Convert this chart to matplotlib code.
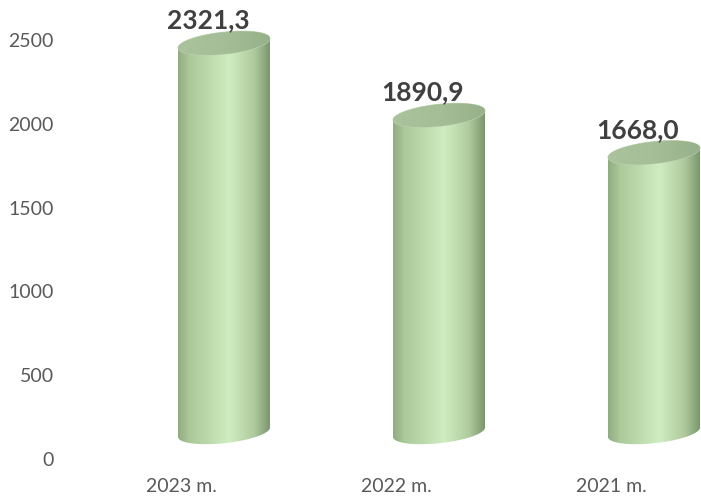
import numpy as np
import matplotlib
matplotlib.use('Agg')
from matplotlib import pyplot as plt
from matplotlib.patches import Polygon

categories = ['2023 m.', '2022 m.', '2021 m.']
values = [2321.3, 1890.9, 1668.0]
value_labels = ['2321,3', '1890,9', '1668,0']
y_ticks = [0, 500, 1000, 1500, 2000, 2500]

plt.rcParams['font.family'] = ['Lato', 'DejaVu Sans']

fig = plt.figure(figsize=(7.01, 4.98), dpi=100)
ax = fig.add_axes([65 / 701, 28 / 498, 1 - 65 / 701, 1 - 28 / 498])
ax.set_xlim(-0.5395, 2.4186)
ax.set_ylim(-65.6, 2738.7)
for s in ax.spines.values():
    s.set_visible(False)

ax.set_yticks(y_ticks)
ax.set_yticklabels([str(t) for t in y_ticks])
ax.set_xticks(range(len(categories)))
ax.set_xticklabels(categories)
ax.tick_params(length=0, labelsize=14, labelcolor='#595959')
ax.tick_params(axis='y', pad=8)
ax.tick_params(axis='x', pad=6)

# 3d look: cylinders sit on a floor a bit above zero and lean to the right
base = 160
offset = 0.2
hw = 0.214
hh = 66
shear = 28

stops = np.array([0.0, 0.12, 0.55, 0.82, 1.0])
cols = np.array([
    [145, 172, 130],
    [170, 200, 152],
    [208, 237, 193],
    [175, 203, 158],
    [120, 147, 106],
]) / 255.0
xs = np.linspace(0, 1, 200)
grad = np.stack([np.interp(xs, stops, cols[:, k]) for k in range(3)], axis=-1)[None, :, :]

cap_stops = np.array([0.0, 0.5, 1.0])
cap_cols = np.array([[170, 195, 156], [165, 190, 151], [150, 176, 138]]) / 255.0
cap_grad = np.stack([np.interp(xs, cap_stops, cap_cols[:, k]) for k in range(3)], axis=-1)[None, :, :]


def ellipse(cx, cy, t):
    return np.column_stack([cx + hw * np.cos(t), cy + hh * np.sin(t) + shear * np.cos(t)])


for i, v in enumerate(values):
    cx = i + offset
    y0 = base
    y1 = base + v
    bottom = ellipse(cx, y0, np.linspace(np.pi, 2 * np.pi, 60))
    body = np.vstack([bottom, ellipse(cx, y1, np.linspace(2 * np.pi, np.pi, 60))])
    patch = Polygon(body, closed=True, facecolor='none', edgecolor='none')
    ax.add_patch(patch)
    im = ax.imshow(grad, extent=[cx - hw, cx + hw, y0 - hh - shear, y1 + hh + shear],
                   aspect='auto', zorder=2, interpolation='bilinear')
    im.set_clip_path(patch)
    cap = Polygon(ellipse(cx, y1, np.linspace(0, 2 * np.pi, 120)), closed=True,
                  facecolor='none', edgecolor='#bcd5ae', linewidth=0.6, zorder=3)
    ax.add_patch(cap)
    cim = ax.imshow(cap_grad, extent=[cx - hw, cx + hw, y1 - hh - shear, y1 + hh + shear],
                    aspect='auto', zorder=3, interpolation='bilinear')
    cim.set_clip_path(cap)
    ax.text(i + 0.125, y1 + hh - 2, value_labels[i], ha='center', va='bottom',
            fontsize=19, fontweight='bold', color='#404040', zorder=4)

fig.savefig('out.png', dpi=100)
